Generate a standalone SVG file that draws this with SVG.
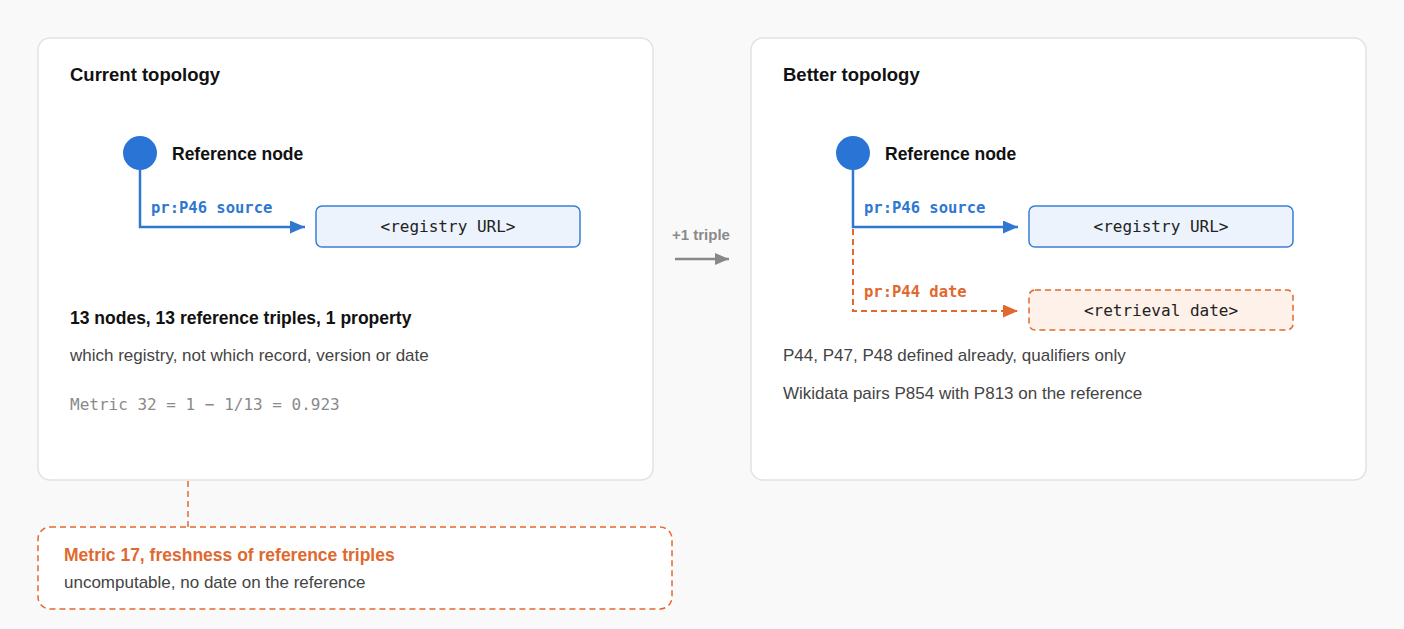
<svg xmlns="http://www.w3.org/2000/svg" width="1404" height="629" viewBox="0 0 1404 629">
<style>
.panel{fill:#ffffff;stroke:#e2e2e2;stroke-width:1.5}
.title{font-family:"Liberation Sans",Arial,sans-serif;font-weight:bold;font-size:18.5px;fill:#111}
.nodelbl{font-family:"Liberation Sans",Arial,sans-serif;font-weight:bold;font-size:17.5px;fill:#111}
.stat{font-family:"Liberation Sans",Arial,sans-serif;font-weight:bold;font-size:17.5px;fill:#111}
.body{font-family:"Liberation Sans",Arial,sans-serif;font-size:17px;fill:#444}
.mono{font-family:"DejaVu Sans Mono","Liberation Mono",monospace;font-size:16px;fill:#222}
.metric{font-family:"DejaVu Sans Mono","Liberation Mono",monospace;font-size:16px;fill:#8a8a8a}
.elbl-b{font-family:"DejaVu Sans Mono","Liberation Mono",monospace;font-weight:bold;font-size:15.5px;fill:#2f78d2}
.elbl-o{font-family:"DejaVu Sans Mono","Liberation Mono",monospace;font-weight:bold;font-size:15.5px;fill:#e0692f}
.dot{fill:#2a74d6}
.boxb{fill:#edf3fc;stroke:#3a7fd4;stroke-width:1.5}
.boxo{fill:#fdf1ea;stroke:#e0692f;stroke-width:1.5;stroke-dasharray:6 4}
.lb{fill:none;stroke:#2f78d2;stroke-width:2.5}
.lo{fill:none;stroke:#e0692f;stroke-width:2;stroke-dasharray:6 4}
</style>
<defs>
<marker id="ab" viewBox="0 0 10 10" refX="10" refY="5" markerWidth="15" markerHeight="13" markerUnits="userSpaceOnUse" orient="auto" preserveAspectRatio="none"><path d="M0,0 L10,5 L0,10 z" fill="#2f78d2"/></marker>
<marker id="ao" viewBox="0 0 10 10" refX="10" refY="5" markerWidth="15" markerHeight="13" markerUnits="userSpaceOnUse" orient="auto" preserveAspectRatio="none"><path d="M0,0 L10,5 L0,10 z" fill="#e0692f"/></marker>
<marker id="ag" viewBox="0 0 10 10" refX="10" refY="5" markerWidth="14" markerHeight="12" markerUnits="userSpaceOnUse" orient="auto" preserveAspectRatio="none"><path d="M0,0 L10,5 L0,10 z" fill="#888"/></marker>
</defs>
<rect width="1404" height="629" fill="#f9f9f9"/>

<g id="panel-current">
<rect class="panel" x="38" y="38" width="615" height="442" rx="12"/>
<text class="title" x="70" y="81">Current topology</text>
<text class="stat" x="70" y="324">13 nodes, 13 reference triples, 1 property</text>
<text class="body" x="70" y="361">which registry, not which record, version or date</text>
<text class="metric" x="70" y="410">Metric 32 = 1 − 1/13 = 0.923</text>
</g>

<g id="panel-better">
<rect class="panel" x="751" y="38" width="615" height="442" rx="12"/>
<text class="title" x="783" y="81">Better topology</text>
<text class="body" x="783" y="361">P44, P47, P48 defined already, qualifiers only</text>
<text class="body" x="783" y="399">Wikidata pairs P854 with P813 on the reference</text>
</g>

<g id="ref-node-1">
<circle class="dot" cx="140" cy="153" r="17"/>
<text class="nodelbl" x="172" y="160">Reference node</text>
</g>
<g id="registry-url-1">
<rect class="boxb" x="316" y="206" width="264" height="41" rx="6"/>
<text class="mono" x="448" y="232" text-anchor="middle">&lt;registry URL&gt;</text>
</g>

<g id="ref-node-2">
<circle class="dot" cx="853" cy="153" r="17"/>
<text class="nodelbl" x="885" y="160">Reference node</text>
</g>
<g id="registry-url-2">
<rect class="boxb" x="1029" y="206" width="264" height="41" rx="6"/>
<text class="mono" x="1161" y="232" text-anchor="middle">&lt;registry URL&gt;</text>
</g>
<g id="retrieval-date">
<rect class="boxo" x="1029" y="290" width="264" height="40" rx="6"/>
<text class="mono" x="1161" y="316" text-anchor="middle">&lt;retrieval date&gt;</text>
</g>

<g id="metric17-note">
<rect x="38" y="527" width="634" height="82" rx="12" fill="#ffffff" stroke="#e0692f" stroke-width="1.5" stroke-dasharray="6 4"/>
<text x="64" y="561" font-family="Liberation Sans,Arial,sans-serif" font-weight="bold" font-size="17.5" fill="#e0692f">Metric 17, freshness of reference triples</text>
<text class="body" x="64" y="588">uncomputable, no date on the reference</text>
</g>

<g id="connectors">
<path class="lb" d="M140,170 V227 H305" marker-end="url(#ab)"/>
<text class="elbl-b" x="151" y="213">pr:P46 source</text>
<path class="lb" d="M853,170 V227 H1018" marker-end="url(#ab)"/>
<text class="elbl-b" x="864" y="213">pr:P46 source</text>
<path class="lo" d="M853,229 V311 H1018" marker-end="url(#ao)"/>
<text class="elbl-o" x="864" y="297">pr:P44 date</text>
<path d="M188,481 V527" fill="none" stroke="#e0692f" stroke-width="1.5" stroke-dasharray="6 4"/>
<text x="701" y="240" text-anchor="middle" font-family="Liberation Sans,Arial,sans-serif" font-weight="bold" font-size="15" fill="#8a8a8a">+1 triple</text>
<path d="M675,259 H729" fill="none" stroke="#888" stroke-width="2.5" marker-end="url(#ag)"/>
</g>
</svg>
